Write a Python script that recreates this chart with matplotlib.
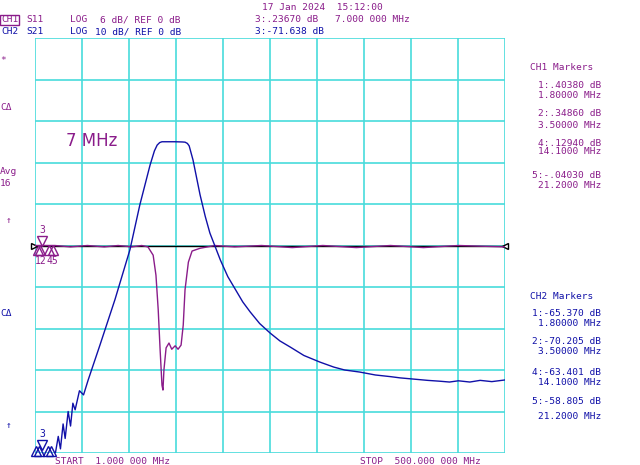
import matplotlib
matplotlib.use("Agg")
import matplotlib.pyplot as plt
import numpy as np

PURPLE = "#8a1c8a"
BLUE = "#1010a8"
GRID = "#48dcdc"

# CH2 S21 (dB), log sweep 1 - 500 MHz
s21_freq = [1.31, 1.36, 1.40, 1.45, 1.49, 1.55, 1.60, 1.65, 1.70, 1.80, 1.90, 2.02,
            2.36, 2.88, 3.51, 4.0, 4.58, 4.85, 5.03, 5.2, 5.36, 6.38, 7.0, 7.27, 7.5,
            7.68, 8.08, 8.87, 9.5, 10.1, 11.6, 12.8, 14.2, 15.6, 17.2, 19.5, 22.4,
            25.5, 29.3, 35, 43.3, 52, 60, 73.4, 90, 110, 125, 150, 180, 211, 240,
            270, 314, 360, 420, 500]
s21_db = [-75, -71, -74, -68, -71.5, -65, -68.5, -63, -64.6, -60, -61, -57.4,
          -49, -38, -26, -15.2, -5.6, -2.2, -0.8, -0.2, 0, 0, -0.05, -0.1, -0.4,
          -1.0, -4.4, -12.8, -18, -22, -28.5, -32.5, -35.7, -38.6, -41, -43.8, -46.1,
          -48.0, -49.5, -51.5, -53.1, -54.3, -55.0, -55.5, -56.2, -56.6, -56.9, -57.2, -57.5,
          -57.7, -57.9, -57.6, -57.9, -57.5, -57.8, -57.4]

# CH1 S11 (dB)
s11_freq = [1.0, 1.3, 1.6, 2.0, 2.5, 3.0, 3.6, 4.1, 4.45, 4.77, 4.95, 5.1, 5.23,
            5.36, 5.43, 5.5, 5.66, 5.88, 6.1, 6.38, 6.63, 6.9, 7.1, 7.27, 7.6,
            7.98, 8.87, 10.8, 14, 20, 30, 45, 70, 110, 170, 270, 500]
s11_db = [0, 0, -0.2, 0, -0.2, 0, -0.2, 0, -0.2, -1.4, -4.3, -9.3, -15.1,
          -20.2, -20.9, -18, -14.8, -14.1, -15, -14.5, -15, -14.4, -11.5, -6.4, -2.4,
          -0.8, -0.4, 0, -0.2, 0, -0.3, 0, -0.3, 0, -0.3, 0, -0.2]

ch1_markers = ["1:.40380 dB", "1.80000 MHz", "2:.34860 dB", "3.50000 MHz",
               "4:.12940 dB", "14.1000 MHz", "5:-.04030 dB", "21.2000 MHz"]
ch2_markers = ["1:-65.370 dB", "1.80000 MHz", "2:-70.205 dB", "3.50000 MHz",
               "4:-63.401 dB", "14.1000 MHz", "5:-58.805 dB", "21.2000 MHz"]

CH1_SCALE, CH1_REFPOS = 6, 5      # dB/div, reference position (div)
CH2_SCALE, CH2_REFPOS = 10, 7.5


def to_div(db, scale, refpos):
    return refpos + np.asarray(db) / scale


W, H = 640, 465
fig = plt.figure(figsize=(6.4, 4.65), dpi=100)
ax = fig.add_axes([35 / W, 12 / H, 470 / W, 415 / H])
ax.set_xscale("log")
ax.set_xlim(1, 500)
ax.set_ylim(0, 10)
for d in range(11):
    ax.axvline(500 ** (d / 10), color=GRID, lw=1.2, zorder=1)
    ax.axhline(d, color=GRID, lw=1.2, zorder=1)
ax.set_xticks([])
ax.set_yticks([])
ax.minorticks_off()
for s in ax.spines.values():
    s.set_visible(False)

ax.axhline(CH1_REFPOS, color="black", lw=1, zorder=2)
ax.plot(s11_freq, to_div(s11_db, CH1_SCALE, CH1_REFPOS), color=PURPLE, lw=1, zorder=3)
ax.plot(s21_freq, to_div(s21_db, CH2_SCALE, CH2_REFPOS), color=BLUE, lw=1, zorder=4)

# marker glyphs
ax.plot([1.10], [CH1_REFPOS + 0.12], marker="v", ms=7, mfc="none", mec=PURPLE, clip_on=False)
ax.text(1.10, CH1_REFPOS + 0.3, "3", color=PURPLE, ha="center", family="DejaVu Sans Mono", fontsize=7)
for f in [1.04, 1.07, 1.21, 1.27]:
    ax.plot([f], [CH1_REFPOS - 0.12], marker="^", ms=7, mfc="none", mec=PURPLE, clip_on=False)
ax.text(1.0, CH1_REFPOS - 0.45, "12", color=PURPLE, family="DejaVu Sans Mono", fontsize=7)
ax.text(1.17, CH1_REFPOS - 0.45, "45", color=PURPLE, family="DejaVu Sans Mono", fontsize=7)
ax.plot([1.10], [0.2], marker="v", ms=7, mfc="none", mec=BLUE, clip_on=False)
ax.text(1.10, 0.38, "3", color=BLUE, ha="center", family="DejaVu Sans Mono", fontsize=7)
for f in [1.02, 1.06, 1.18, 1.24]:
    ax.plot([f], [0.05], marker="^", ms=7, mfc="none", mec=BLUE, clip_on=False)
ax.plot([0.985], [CH1_REFPOS], marker=">", ms=4, mfc="white", mec="black", clip_on=False)
ax.plot([500], [CH1_REFPOS], marker="<", ms=4, mfc="white", mec="black", clip_on=False)
ax.text(1.5, 7.4, "7 MHz", color=PURPLE, fontsize=12, family="DejaVu Sans")

mono = dict(family="DejaVu Sans Mono", fontsize=6.8, va="center")


def txt(x, y, s, c, **kw):
    fig.text(x / W, 1 - y / H, s, color=c, **{**mono, **kw})


txt(262, 7, "17 Jan 2024  15:12:00", PURPLE)
txt(1, 20, "CH1", PURPLE, bbox=dict(boxstyle="square,pad=0.1", fc="none", ec=PURPLE, lw=1))
txt(26, 20, "S11", PURPLE)
txt(70, 20, "LOG", PURPLE)
txt(181, 20, "6 dB/ REF 0 dB", PURPLE, ha="right")
txt(255, 20, "3:.23670 dB", PURPLE)
txt(335, 20, "7.000 000 MHz", PURPLE)
txt(1, 32, "CH2", BLUE)
txt(26, 32, "S21", BLUE)
txt(70, 32, "LOG", BLUE)
txt(181, 32, "10 dB/ REF 0 dB", BLUE, ha="right")
txt(255, 32, "3:-71.638 dB", BLUE)
txt(55, 461, "START  1.000 000 MHz", PURPLE)
txt(360, 461, "STOP  500.000 000 MHz", PURPLE)

txt(0, 60, "*", PURPLE)
txt(0, 107, "CΔ", PURPLE)
txt(0, 172, "Avg", PURPLE)
txt(0, 183, "16", PURPLE)
txt(6, 220, "↑", PURPLE)
txt(0, 313, "CΔ", BLUE)
txt(6, 425, "↑", BLUE)

txt(530, 68, "CH1 Markers", PURPLE)
for (y, s) in zip([85, 96, 113, 125, 143, 152, 175, 185], ch1_markers):
    txt(601, y, s, PURPLE, ha="right")
txt(530, 296, "CH2 Markers", BLUE)
for (y, s) in zip([313, 323, 341, 351, 372, 382, 401, 416], ch2_markers):
    txt(601, y, s, BLUE, ha="right")

fig.savefig("out.png", dpi=100, facecolor="white")
